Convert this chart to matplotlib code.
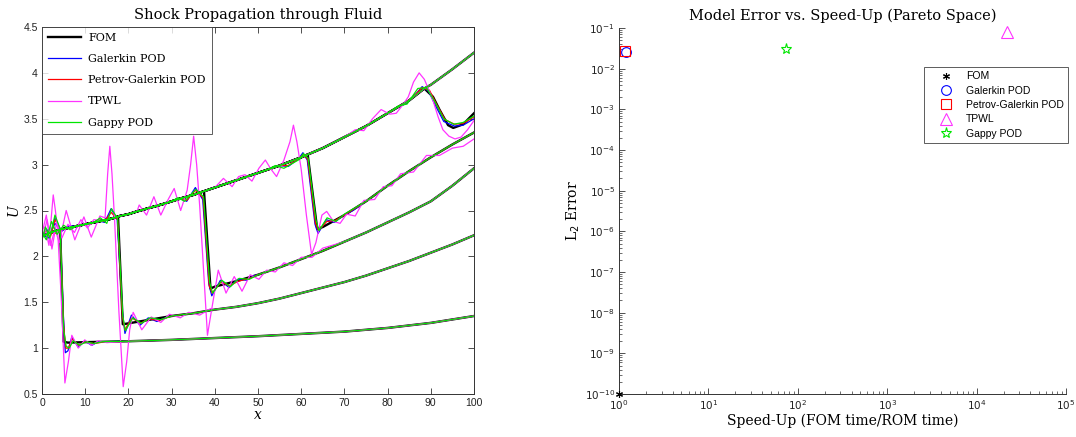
import matplotlib
matplotlib.use("Agg")
import matplotlib.pyplot as plt
from matplotlib.lines import Line2D
from matplotlib.ticker import LogLocator, NullFormatter

# ------------------------------------------------------------------ data
X_TICKS = [0, 10, 20, 30, 40, 50, 60, 70, 80, 90, 100]
U_TICKS = [0.5, 1, 1.5, 2, 2.5, 3, 3.5, 4, 4.5]
U_TICKLABELS = ["0.5", "1", "1.5", "2", "2.5", "3", "3.5", "4", "4.5"]

# upstream (post-shock) state shared by all snapshots
ENV_X = [0, 2, 4, 6, 8, 10, 12, 14, 16, 18, 20, 22, 25, 28, 30, 32, 35, 37.5, 40,
         45, 50, 55, 60, 61.5, 65, 70, 75, 80, 85, 88.5, 90, 95, 100]
ENV_U = [2.22, 2.26, 2.29, 2.31, 2.33, 2.35, 2.37, 2.39, 2.41, 2.44, 2.46, 2.49, 2.53,
         2.57, 2.60, 2.63, 2.67, 2.71, 2.75, 2.83, 2.91, 2.99, 3.08, 3.11, 3.18, 3.30,
         3.42, 3.56, 3.70, 3.83, 3.87, 4.04, 4.22]

# FOM: shock and downstream part of each snapshot
FOM_SEG = [
    [(4.2, 2.29), (5.0, 1.07), (6, 1.06), (10, 1.065), (20, 1.075), (30, 1.09), (40, 1.11),
     (50, 1.13), (60, 1.155), (70, 1.18), (80, 1.22), (90, 1.275), (100, 1.35)],
    [(17.6, 2.43), (18.7, 1.26), (20, 1.27), (25, 1.31), (30, 1.35), (35, 1.38), (40, 1.42),
     (45, 1.45), (50, 1.49), (55, 1.54), (60, 1.60), (65, 1.66), (70, 1.72), (75, 1.79),
     (80, 1.87), (85, 1.95), (90, 2.04), (95, 2.13), (100, 2.23)],
    [(37.5, 2.71), (39, 1.65), (40, 1.67), (45, 1.73), (50, 1.80), (55, 1.88), (60, 1.97),
     (65, 2.06), (70, 2.16), (75, 2.26), (80, 2.37), (85, 2.48), (90, 2.60), (95, 2.77),
     (100, 2.96)],
    [(61.5, 3.11), (63.7, 2.30), (65, 2.32), (70, 2.45), (75, 2.60), (80, 2.77), (85, 2.93),
     (90, 3.08), (95, 3.22), (100, 3.35)],
    [(88.5, 3.83), (90.5, 3.74), (92, 3.60), (94, 3.43), (95.2, 3.40), (97.5, 3.44),
     (100, 3.56)],
    [],
]

GALERKIN_SEG = [
    [(0, 2.20), (1, 2.30), (2, 2.24), (3, 2.42), (4.2, 2.30), (5.0, 1.30), (5.4, 0.95),
     (6.0, 0.97), (6.9, 1.12), (8.4, 1.01), (9.9, 1.08), (11.5, 1.03), (13, 1.07), (15, 1.07)],
    [(13, 2.39), (14.5, 2.37), (16, 2.52), (17.4, 2.40), (18.6, 1.40), (19.2, 1.16),
     (20.7, 1.36), (22.7, 1.25), (24.6, 1.33), (26.6, 1.29), (28.5, 1.33)],
    [(32, 2.63), (33.5, 2.60), (35.5, 2.75), (37.2, 2.62), (38.6, 1.70), (39.3, 1.57),
     (41.3, 1.74), (43.3, 1.66), (45.3, 1.75), (47.3, 1.74), (49, 1.79)],
    [(55, 2.99), (57, 2.98), (59.5, 3.07), (60.4, 3.13), (61.4, 3.05), (63.2, 2.35),
     (63.9, 2.25), (65.8, 2.40), (67.7, 2.37), (69.6, 2.44), (72, 2.50)],
    [(82, 3.62), (84, 3.66), (86, 3.74), (88, 3.85), (89.5, 3.80), (91, 3.65), (93, 3.47),
     (95.5, 3.42), (97.5, 3.43), (100, 3.50)],
    [(0, 2.24), (1.5, 2.20), (3, 2.36), (4.5, 2.27), (6, 2.33)],
]

PETROV_SEG = [
    [(0, 2.24), (1, 2.28), (2, 2.22), (3, 2.40), (4.2, 2.30), (5.0, 1.25), (5.5, 1.00),
     (6.1, 1.00), (7, 1.10), (8.5, 1.03), (10, 1.07), (12, 1.05), (14, 1.065)],
    [(13, 2.40), (14.5, 2.38), (16, 2.48), (17.5, 2.40), (18.6, 1.35), (19.2, 1.20),
     (20.8, 1.33), (22.8, 1.27), (24.8, 1.32), (27, 1.30)],
    [(32, 2.63), (33.5, 2.61), (35.5, 2.72), (37.3, 2.64), (38.7, 1.68), (39.4, 1.60),
     (41.4, 1.72), (43.4, 1.68), (45.5, 1.73), (48, 1.76)],
    [(55, 2.99), (57, 2.99), (59.6, 3.07), (60.5, 3.11), (61.5, 3.06), (63.3, 2.36),
     (64.0, 2.28), (65.9, 2.38), (67.8, 2.39), (70, 2.45)],
    [(82, 3.62), (84, 3.67), (86, 3.74), (88, 3.84), (89.7, 3.81), (91.3, 3.66),
     (93.3, 3.49), (95.5, 3.44), (97.5, 3.45), (100, 3.52)],
    [(0, 2.21), (1.8, 2.27), (3.2, 2.25), (5, 2.30)],
]

TPWL_SEG = [
    [(0, 2.30), (0.7, 2.32), (1.6, 2.12), (2.1, 2.40), (2.6, 2.67), (3.1, 2.50), (3.6, 2.30),
     (4.4, 1.60), (5.3, 0.62), (6.1, 0.85), (6.9, 1.14), (8.4, 1.00), (9.9, 1.09),
     (11.5, 1.03), (13, 1.08), (15, 1.06)],
    [(0, 2.25), (1, 2.45), (2, 2.12), (3, 2.30), (4, 2.15), (5.6, 2.50), (7.6, 2.18),
     (9.7, 2.43), (11.4, 2.21), (13.4, 2.44), (14.6, 2.42), (15.2, 2.90), (15.7, 3.20),
     (16.2, 2.90), (16.8, 2.40), (17.8, 1.40), (18.8, 0.58), (19.6, 0.85), (20.3, 1.20),
     (21.1, 1.39), (23.1, 1.20), (25.3, 1.34), (27.5, 1.28), (29.5, 1.37), (32, 1.33),
     (34, 1.39), (36.5, 1.36), (39, 1.43)],
    [(22.5, 2.56), (24.2, 2.45), (25.9, 2.65), (27.5, 2.45), (29.2, 2.62), (30.6, 2.74),
     (32.1, 2.50), (33.6, 2.72), (34.4, 3.00), (35.1, 3.31), (35.8, 3.00), (36.5, 2.55),
     (37.4, 1.85), (38.3, 1.14), (39.2, 1.40), (40.8, 1.85), (42.6, 1.60), (44.5, 1.78),
     (46.3, 1.62), (48.2, 1.80), (50.2, 1.75), (52, 1.85), (54, 1.83), (56, 1.93),
     (58, 1.90), (60, 1.99), (62.5, 1.99), (65, 2.09)],
    [(42, 2.85), (44, 2.76), (45.5, 2.87), (47, 2.89), (48.6, 2.82), (50.2, 2.96),
     (51.7, 3.05), (53, 2.95), (54.3, 2.87), (56, 3.05), (57.4, 3.25), (58.2, 3.43),
     (59, 3.25), (60, 2.95), (61.2, 2.45), (62.4, 2.02), (63.4, 2.15), (64.8, 2.45),
     (65.9, 2.49), (67.5, 2.38), (69, 2.36), (70.5, 2.46), (72.5, 2.44), (74.5, 2.61),
     (77, 2.62), (79, 2.76), (81, 2.77), (83, 2.90), (86, 2.92), (89, 3.10), (92, 3.10),
     (95, 3.18), (97.5, 3.20), (100, 3.28)],
    [(70, 3.30), (72.5, 3.38), (74.5, 3.37), (76.5, 3.50), (78.5, 3.60), (80.5, 3.55),
     (82, 3.56), (83.5, 3.65), (84.8, 3.74), (86, 3.90), (87.3, 4.00), (88.5, 3.93),
     (89.5, 3.82), (90.5, 3.70), (91.7, 3.52), (92.8, 3.38), (94.2, 3.31), (95.6, 3.28),
     (97, 3.30), (98.5, 3.38), (100, 3.48)],
    [(0, 2.18), (1.2, 2.40), (2.3, 2.08), (3.4, 2.38), (4.6, 2.20), (6, 2.35), (7.5, 2.26),
     (9, 2.40), (10.5, 2.31), (12, 2.40)],
]

GAPPY_SEG = [
    [(0, 2.18), (0.8, 2.32), (1.8, 2.20), (3, 2.45), (4.2, 2.30), (5.0, 1.20), (5.6, 1.02),
     (6.3, 1.00), (7.2, 1.08), (8.7, 1.03), (10.2, 1.07), (12, 1.05), (14, 1.07)],
    [(12, 2.37), (13.5, 2.42), (15, 2.36), (16.1, 2.52), (17.5, 2.41), (18.7, 1.35),
     (19.3, 1.19), (21, 1.33), (23, 1.27), (25, 1.33), (27.5, 1.31)],
    [(30, 2.60), (31.5, 2.64), (33, 2.60), (35.6, 2.73), (37.4, 2.65), (38.8, 1.72),
     (39.5, 1.60), (41.6, 1.74), (43.6, 1.67), (45.6, 1.76), (48, 1.75)],
    [(52, 2.94), (54, 2.99), (56, 2.96), (59.7, 3.06), (60.5, 3.12), (61.6, 3.07),
     (63.4, 2.40), (64.1, 2.28), (66.0, 2.42), (68, 2.38), (70, 2.46)],
    [(80, 3.56), (82.5, 3.64), (84.5, 3.66), (87, 3.83), (89, 3.84), (91, 3.68), (93, 3.50),
     (95.3, 3.44), (97.5, 3.46), (100, 3.53)],
    [(0, 2.26), (1, 2.18), (2.2, 2.38), (3.5, 2.24), (5, 2.34), (6.5, 2.29)],
]

# Pareto plot
METHODS = ["FOM", "Galerkin POD", "Petrov-Galerkin POD", "TPWL", "Gappy POD"]
SPEEDUP = [1.0, 1.2, 1.18, 2.2e4, 74]
ERROR = [1e-10, 0.025, 0.027, 0.079, 0.030]

COLORS = ["black", "#0000ff", "#ff0000", "#ff33ff", "#00e600"]
LWS = [1.7, 0.9, 0.9, 0.9, 0.9]

# ------------------------------------------------------------------ helpers
ENV = list(zip(ENV_X, ENV_U))


def assemble(seg, base):
    if not seg:
        return list(base)
    x0, x1 = seg[0][0], seg[-1][0]
    return [p for p in base if p[0] < x0] + list(seg) + [p for p in base if p[0] > x1]


fig = plt.figure(figsize=(10.76, 4.37), dpi=100)
SERIF = ["DejaVu Serif"]
SANS = ["Liberation Sans", "DejaVu Sans"]
plt.rcParams["mathtext.fontset"] = "dejavusans"

# ------------------------------------------------------------------ left panel
ax = fig.add_axes([42 / 1076, 1 - 394 / 437, (474 - 42) / 1076, (394 - 27) / 437])
fom_curves = [assemble(s, ENV) for s in FOM_SEG]
all_segs = [FOM_SEG, GALERKIN_SEG, PETROV_SEG, TPWL_SEG, GAPPY_SEG]
handles = []
for mi, segs in enumerate(all_segs):
    for si in range(len(fom_curves)):
        if mi == 0:
            pts = fom_curves[si]
        else:
            pts = assemble(segs[si], fom_curves[si])
        xs = [p[0] for p in pts]
        us = [p[1] for p in pts]
        ax.plot(xs, us, color=COLORS[mi], lw=LWS[mi], zorder=2 + mi * 0.1)
    handles.append(Line2D([], [], color=COLORS[mi], lw=LWS[mi], label=METHODS[mi]))

ax.set_xlim(0, 100)
ax.set_ylim(0.5, 4.5)
ax.set_xticks(X_TICKS)
ax.set_xticklabels([str(t) for t in X_TICKS], family=SANS, fontsize=7.5)
ax.set_yticks(U_TICKS)
ax.set_yticklabels(U_TICKLABELS, family=SANS, fontsize=7.5)
ax.tick_params(direction="in", top=True, right=True, length=4, width=0.6, pad=3,
               colors="#333333", labelcolor="#222222")
for sp in ax.spines.values():
    sp.set_linewidth(0.7)
    sp.set_color("#333333")
ax.set_title("Shock Propagation through Fluid", family=SERIF, fontsize=10.5, pad=6)
ax.set_xlabel("x", family=SERIF, style="italic", fontsize=10, labelpad=0)
ax.set_ylabel("U", family=SERIF, style="italic", fontsize=10, labelpad=2)
leg = ax.legend(handles=handles, loc="upper left", borderaxespad=0, fancybox=False,
                prop={"family": SERIF, "size": 8}, handlelength=3.0, labelspacing=1.0,
                borderpad=0.55, handletextpad=0.6)
leg.get_frame().set_edgecolor("#333333")
leg.get_frame().set_linewidth(0.7)

# ------------------------------------------------------------------ right panel
bx = fig.add_axes([619 / 1076, 1 - 394 / 437, (1066 - 619) / 1076, (394 - 28) / 437])
MARKERS = [(6, 2, 0), "o", "s", "^", "*"]
MSIZES = [5, 7, 6.5, 8, 8]
for i in range(len(METHODS)):
    bx.plot([SPEEDUP[i]], [ERROR[i]], linestyle="none", marker=MARKERS[i],
            markersize=MSIZES[i], markerfacecolor="none" if i > 0 else COLORS[i],
            markeredgecolor=COLORS[i], markeredgewidth=0.8, label=METHODS[i],
            clip_on=False, zorder=3)
bx.set_xscale("log")
bx.set_yscale("log")
bx.set_xlim(1, 1e5)
bx.set_ylim(1e-10, 1e-1)
bx.spines["top"].set_visible(False)
bx.spines["right"].set_visible(False)
for sp in ("left", "bottom"):
    bx.spines[sp].set_linewidth(0.7)
    bx.spines[sp].set_color("#333333")
bx.xaxis.set_major_locator(LogLocator(base=10, numticks=10))
bx.yaxis.set_major_locator(LogLocator(base=10, numticks=20))
bx.xaxis.set_minor_locator(LogLocator(base=10, subs=range(2, 10), numticks=10))
bx.yaxis.set_minor_locator(LogLocator(base=10, subs=range(2, 10), numticks=20))
bx.xaxis.set_minor_formatter(NullFormatter())
bx.yaxis.set_minor_formatter(NullFormatter())
bx.tick_params(which="major", direction="in", length=4, width=0.6, labelsize=7.5, pad=3,
               colors="#333333", labelcolor="#222222")
bx.tick_params(which="minor", direction="in", length=2, width=0.5, colors="#333333")
bx.set_title("Model Error vs. Speed-Up (Pareto Space)", family=SERIF, fontsize=10.5, pad=6)
bx.set_xlabel("Speed-Up (FOM time/ROM time)", family=SERIF, fontsize=10, labelpad=1)
bx.set_ylabel("L$_2$ Error", family=SERIF, fontsize=10, labelpad=2)
leg2 = bx.legend(loc="upper right", bbox_to_anchor=(1.004, 0.893), borderaxespad=0,
                 fancybox=False, numpoints=1, prop={"family": SANS, "size": 7.5},
                 handlelength=3.4, labelspacing=0.42, borderpad=0.4, handletextpad=0.2)
leg2.get_frame().set_edgecolor("#333333")
leg2.get_frame().set_linewidth(0.7)

fig.savefig("out.png", dpi=100)
